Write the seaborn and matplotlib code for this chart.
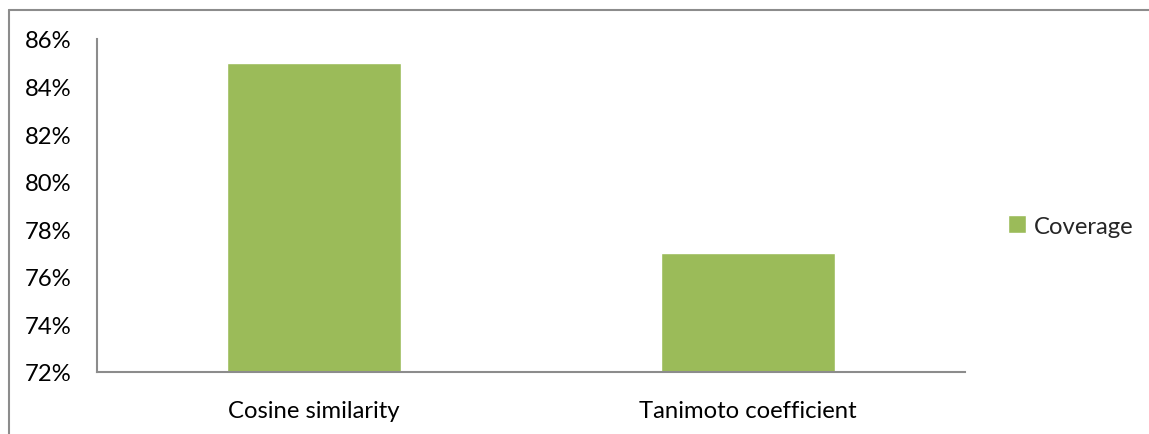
import numpy as np
import pandas as pd
import seaborn as sns
import matplotlib.pyplot as plt
from matplotlib.ticker import PercentFormatter
from matplotlib.lines import Line2D

categories = ["Cosine similarity", "Tanimoto coefficient"]
coverage = [85.0, 77.0]   # percent
series_name = "Coverage"
yticks = [72, 74, 76, 78, 80, 82, 84, 86]

df = pd.DataFrame({"measure": categories, "coverage": coverage})

sns.set_style("white")
plt.rcParams['font.family'] = ['Lato', 'DejaVu Sans']

fig = plt.figure(figsize=(11.49, 4.35), dpi=100)
ax = fig.add_axes([97/1149, 1 - 373/435, (965 - 97)/1149, (373 - 40)/435])

sns.barplot(data=df, x="measure", y="coverage", color="#9BBB59", width=0.4,
            saturation=1, label=series_name, ax=ax)
if ax.get_legend() is not None:
    ax.get_legend().remove()

ax.set_ylim(72, 86)
ax.set_yticks(yticks)
ax.yaxis.set_major_formatter(PercentFormatter(decimals=0))
ax.set_xlabel("")
ax.set_ylabel("")
ax.tick_params(axis="both", length=0, labelsize=17.2, colors="black")
ax.tick_params(axis="y", pad=18.5)
ax.tick_params(axis="x", pad=20)

for s in ["top", "right"]:
    ax.spines[s].set_visible(False)
for s in ["left", "bottom"]:
    ax.spines[s].set_color("#8c8c8c")
    ax.spines[s].set_linewidth(1.5)

# legend on the right
handles, labels = ax.get_legend_handles_labels()
fig.legend(handles, labels, loc="center left",
           bbox_to_anchor=(1008/1149, 1 - 227/435), frameon=False,
           fontsize=17.2, handlelength=0.75, handleheight=0.75,
           handletextpad=0.35, borderpad=0, borderaxespad=0)

# outer chart border (cropped on right/bottom)
fig.add_artist(Line2D([9/1149, 1], [1 - 11/435, 1 - 11/435], transform=fig.transFigure,
                      color="#8c8c8c", linewidth=1.5))
fig.add_artist(Line2D([9/1149, 9/1149], [0, 1 - 11/435], transform=fig.transFigure,
                      color="#8c8c8c", linewidth=1.5))

fig.savefig("out.png", dpi=100)
